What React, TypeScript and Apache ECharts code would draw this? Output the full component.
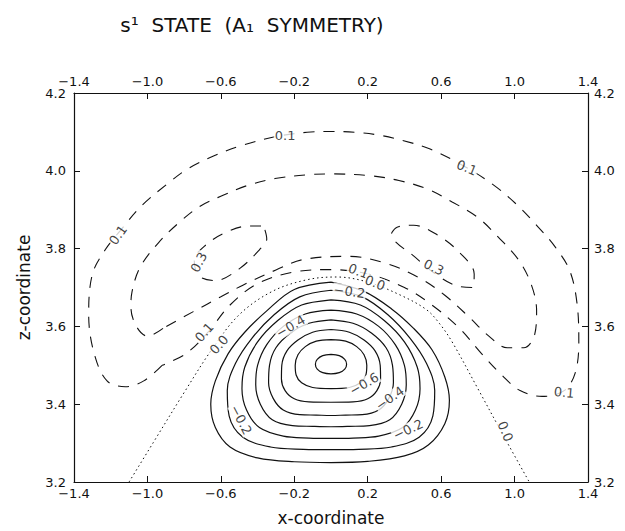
import { useEffect, useRef } from 'react';
import * as echarts from 'echarts';

// axis ticks
const xTicks = [-1.4, -1.0, -0.6, -0.2, 0.2, 0.6, 1.0, 1.4];
const zTicks = [3.2, 3.4, 3.6, 3.8, 4.0, 4.2];

// node line (0.0), dotted
const node00 = [[-1.1,3.2],[-0.97,3.30],[-0.80,3.43],[-0.65,3.54],[-0.50,3.63],[-0.32,3.69],[-0.13,3.72],[0.03,3.727],[0.2,3.714],[0.38,3.68],[0.52,3.643],[0.59,3.608],[0.66,3.56],[0.8,3.44],[0.95,3.31],[1.08,3.2]];

// positive contours (dashed)
const pos01 = [[-0.92,3.50],[-1.02,3.46],[-1.12,3.445],[-1.22,3.46],[-1.29,3.53],[-1.32,3.63],[-1.30,3.734],[-1.23,3.797],[-1.15,3.845],[-1.03,3.911],[-0.89,3.967],[-0.78,4.005],[-0.64,4.038],[-0.50,4.063],[-0.30,4.088],[-0.13,4.099],[0.0,4.101],[0.13,4.099],[0.27,4.091],[0.39,4.078],[0.54,4.056],[0.74,4.008],[0.89,3.962],[1.01,3.914],[1.12,3.86],[1.22,3.805],[1.30,3.744],[1.34,3.66],[1.35,3.56],[1.33,3.48],[1.27,3.435],[1.15,3.42],[1.03,3.435],[0.93,3.475],[0.82,3.53],[0.70,3.595],[0.55,3.655],[0.40,3.70],[0.20,3.735],[0.0,3.746],[-0.20,3.74],[-0.40,3.71],[-0.55,3.655],[-0.67,3.585],[-0.79,3.53],[-0.92,3.50]];
const pos02 = [[-0.915,3.595],[-1.0,3.575],[-1.06,3.60],[-1.09,3.65],[-1.084,3.689],[-1.04,3.752],[-0.94,3.815],[-0.83,3.866],[-0.713,3.909],[-0.588,3.937],[-0.457,3.962],[-0.305,3.98],[-0.126,3.99],[0,3.992],[0.22,3.987],[0.37,3.975],[0.52,3.954],[0.66,3.92],[0.80,3.88],[0.91,3.83],[1.02,3.772],[1.09,3.709],[1.12,3.64],[1.11,3.58],[1.05,3.545],[0.96,3.545],[0.86,3.575],[0.75,3.625],[0.62,3.68],[0.48,3.725],[0.30,3.762],[0.10,3.78],[-0.15,3.772],[-0.30,3.745],[-0.48,3.706],[-0.60,3.676],[-0.75,3.638],[-0.915,3.595]];
const lobeLeft03 = [[-0.36,3.848],[-0.35,3.825],[-0.39,3.797],[-0.5,3.748],[-0.63,3.718],[-0.72,3.73],[-0.745,3.77],[-0.68,3.81],[-0.57,3.842],[-0.45,3.858],[-0.38,3.858],[-0.36,3.848]];
const lobeRight03 = [[0.33,3.84],[0.36,3.855],[0.45,3.86],[0.58,3.835],[0.70,3.79],[0.78,3.735],[0.77,3.70],[0.68,3.705],[0.56,3.738],[0.44,3.785],[0.35,3.818],[0.33,3.84]];

// negative contours (solid)
const negM2 = [[0,3.714],[0.18,3.69],[0.33,3.645],[0.45,3.595],[0.55,3.54],[0.62,3.47],[0.645,3.41],[0.62,3.35],[0.53,3.295],[0.4,3.267],[0.2,3.253],[0,3.25],[-0.2,3.252],[-0.4,3.262],[-0.55,3.29],[-0.63,3.34],[-0.655,3.40],[-0.63,3.46],[-0.56,3.53],[-0.47,3.585],[-0.35,3.64],[-0.2,3.695],[0,3.714]];
const negM3 = [[0,3.693],[0.17,3.676],[0.31,3.63],[0.43,3.57],[0.52,3.505],[0.565,3.435],[0.555,3.37],[0.48,3.315],[0.33,3.29],[0.15,3.284],[0,3.283],[-0.15,3.284],[-0.33,3.29],[-0.48,3.315],[-0.555,3.37],[-0.565,3.435],[-0.52,3.505],[-0.43,3.57],[-0.31,3.63],[-0.17,3.676],[0,3.693]];
const negM4 = [[0,3.668],[0.16,3.655],[0.29,3.615],[0.40,3.56],[0.47,3.495],[0.485,3.44],[0.46,3.385],[0.39,3.34],[0.26,3.318],[0.12,3.313],[0,3.312],[-0.12,3.313],[-0.26,3.318],[-0.39,3.34],[-0.46,3.385],[-0.485,3.44],[-0.47,3.495],[-0.40,3.56],[-0.29,3.615],[-0.16,3.655],[0,3.668]];
const negM5 = [[0,3.642],[0.14,3.632],[0.26,3.6],[0.35,3.553],[0.40,3.50],[0.41,3.45],[0.385,3.40],[0.32,3.36],[0.21,3.345],[0.1,3.343],[0,3.342],[-0.1,3.343],[-0.21,3.345],[-0.32,3.36],[-0.385,3.40],[-0.41,3.45],[-0.40,3.50],[-0.35,3.553],[-0.26,3.6],[-0.14,3.632],[0,3.642]];
const negM6 = [[0,3.617],[0.12,3.608],[0.22,3.583],[0.30,3.545],[0.335,3.50],[0.34,3.455],[0.315,3.415],[0.26,3.385],[0.17,3.373],[0.08,3.372],[0,3.371],[-0.08,3.372],[-0.17,3.373],[-0.26,3.385],[-0.315,3.415],[-0.34,3.455],[-0.335,3.50],[-0.30,3.545],[-0.22,3.583],[-0.12,3.608],[0,3.617]];
const negM7 = [[0,3.592],[0.1,3.585],[0.18,3.565],[0.24,3.537],[0.268,3.50],[0.27,3.465],[0.25,3.435],[0.2,3.414],[0.12,3.406],[0,3.405],[-0.12,3.406],[-0.2,3.414],[-0.25,3.435],[-0.27,3.465],[-0.268,3.50],[-0.24,3.537],[-0.18,3.565],[-0.1,3.585],[0,3.592]];
const negM8 = [[0,3.566],[0.08,3.562],[0.14,3.548],[0.18,3.527],[0.195,3.5],[0.19,3.475],[0.16,3.455],[0.1,3.443],[0,3.44],[-0.1,3.443],[-0.16,3.455],[-0.19,3.475],[-0.195,3.5],[-0.18,3.527],[-0.14,3.548],[-0.08,3.562],[0,3.566]];
const negM9 = [[0,3.528],[0.045,3.525],[0.075,3.515],[0.085,3.503],[0.075,3.49],[0.045,3.481],[0,3.478],[-0.045,3.481],[-0.075,3.49],[-0.085,3.503],[-0.075,3.515],[-0.045,3.525],[0,3.528]];

// contour labels: [x, z, text, rotation]
const contourLabels: [number, number, string, number][] = [
  [-0.25, 4.092, '0.1', 0],
  [-1.16, 3.835, '0.1', 55],
  [0.74, 4.008, '0.1', -22],
  [1.27, 3.43, '0.1', -5],
  [-0.72, 3.765, '0.3', 62],
  [0.56, 3.752, '0.3', -25],
  [0.15, 3.742, '0.1', -20],
  [0.24, 3.712, '0.0', -22],
  [-0.69, 3.585, '0.1', 48],
  [-0.61, 3.553, '0.0', 48],
  [0.95, 3.33, '0.0', -68],
  [0.1, 3.69, '\u22120.2', -8],
  [-0.22, 3.60, '\u22120.4', 30],
  [-0.49, 3.36, '\u22120.2', -62],
  [0.18, 3.452, '\u22120.6', 30],
  [0.32, 3.415, '\u22120.4', 35],
  [0.42, 3.335, '\u22120.2', 25],
];

const FONT = 'DejaVu Sans';
const INK = '#111';

function fmt(v: number) {
  const r = Math.round(v * 10) / 10;
  return (r < 0 ? '\u2212' : '') + Math.abs(r).toFixed(1);
}

function line(data: number[][], type: any, width: number) {
  return {
    type: 'line',
    data,
    showSymbol: false,
    symbol: 'none',
    smooth: 0.35,
    silent: true,
    lineStyle: { color: INK, width, type },
    z: 3,
  };
}

export default function App() {
  const ref = useRef<HTMLDivElement>(null);
  useEffect(() => {
    if (!ref.current) return;
    const chart = echarts.init(ref.current, undefined, { renderer: 'svg' });
    const axisCommon = {
      type: 'value',
      axisLine: { show: true, onZero: false, lineStyle: { color: INK, width: 1.2 } },
      axisTick: { show: true, inside: true, length: 6, lineStyle: { color: INK, width: 1 } },
      splitLine: { show: false },
    };
    const dashed = [11, 9];
    const dotted = [1.5, 3];
    chart.setOption({
      animation: false,
      backgroundColor: '#fff',
      grid: { left: 74, right: 37, top: 93, bottom: 43 },
      graphic: [
        {
          type: 'text',
          x: 252,
          y: 15,
          style: {
            text: 's\u00b9  STATE  (A\u2081  SYMMETRY)',
            fontSize: 20,
            fontFamily: FONT,
            fill: INK,
            textAlign: 'center',
          },
        },
      ],
      xAxis: [
        {
          ...axisCommon,
          position: 'bottom',
          min: -1.4, max: 1.4, interval: 0.4,
          axisLabel: { formatter: fmt, color: INK, fontSize: 13, fontFamily: FONT, margin: 5 },
          name: 'x-coordinate',
          nameLocation: 'middle',
          nameGap: 27,
          nameTextStyle: { fontSize: 17, fontFamily: FONT, color: INK },
        },
        {
          ...axisCommon,
          position: 'top',
          min: -1.4, max: 1.4, interval: 0.4,
          axisLabel: { formatter: fmt, color: INK, fontSize: 13, fontFamily: FONT, margin: 5 },
        },
      ],
      yAxis: [
        {
          ...axisCommon,
          position: 'left',
          min: 3.2, max: 4.2, interval: 0.2,
          axisLabel: { formatter: fmt, color: INK, fontSize: 13, fontFamily: FONT, margin: 8 },
          name: 'z-coordinate',
          nameLocation: 'middle',
          nameGap: 42,
          nameRotate: 90,
          nameTextStyle: { fontSize: 17, fontFamily: FONT, color: INK },
        },
        {
          ...axisCommon,
          position: 'right',
          min: 3.2, max: 4.2, interval: 0.2,
          axisLabel: { formatter: fmt, color: INK, fontSize: 13, fontFamily: FONT, margin: 6 },
        },
      ],
      series: [
        line(node00, dotted, 1),
        line(pos01, dashed, 1.1),
        line(pos02, dashed, 1.1),
        line(lobeLeft03, dashed, 1.1),
        line(lobeRight03, dashed, 1.1),
        line(negM2, 'solid', 1.2),
        line(negM3, 'solid', 1.2),
        line(negM4, 'solid', 1.2),
        line(negM5, 'solid', 1.2),
        line(negM6, 'solid', 1.2),
        line(negM7, 'solid', 1.2),
        line(negM8, 'solid', 1.2),
        line(negM9, 'solid', 1.2),
        {
          type: 'scatter',
          symbolSize: 0,
          silent: true,
          z: 10,
          data: contourLabels.map(([x, z, t, r]) => ({
            value: [x, z],
            name: t,
            label: { rotate: r },
          })),
          label: {
            show: true,
            position: 'inside',
            formatter: (p: any) => p.name,
            color: INK,
            fontSize: 13,
            fontFamily: FONT,
            backgroundColor: '#fff',
            padding: [0, 1],
          },
        },
      ],
    });
    return () => chart.dispose();
  }, []);
  return (
    <div
      ref={ref}
      style={{ position: 'absolute', left: 0, top: 0, width: 625, height: 531 }}
    />
  );
}
